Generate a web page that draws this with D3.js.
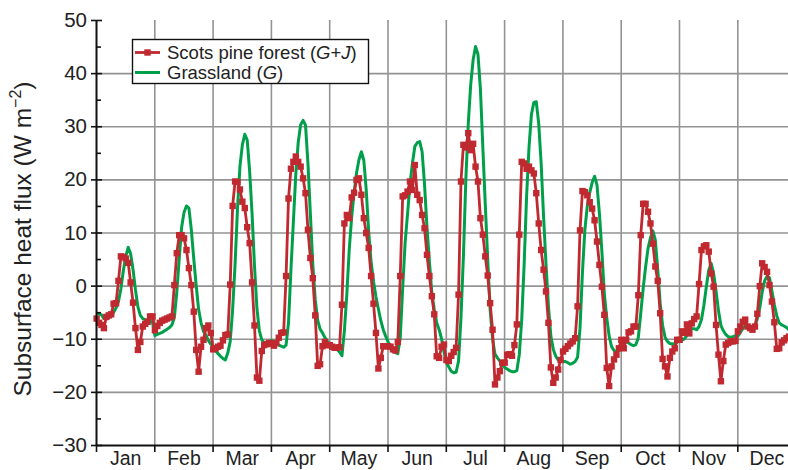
<!DOCTYPE html>
<html>
<head>
<meta charset="utf-8">
<title>Subsurface heat flux</title>
<script src="https://d3js.org/d3.v7.min.js"></script>
<style>
  body { margin: 0; background: #fff; }
  svg { display: block; font-family: "Liberation Sans", Arial, Helvetica, sans-serif; }
  .grid line { stroke: #939393; stroke-width: 1.6; }
  .grid .domain { display: none; }
  .axis .domain { stroke: #111; stroke-width: 2; }
  .axis line { stroke: #111; stroke-width: 1.6; }
  .axis text { fill: #222; }
</style>
</head>
<body>
<script>
// month labels and y ticks
const months = ["Jan", "Feb", "Mar", "Apr", "May", "Jun", "Jul", "Aug", "Sep", "Oct", "Nov", "Dec"];
const yTicks = [-30, -20, -10, 0, 10, 20, 30, 40, 50];

// mean diurnal cycle, 24 hourly values per month (W m-2)
const scotsPine = [
  [-6.2, -7.0, -7.4, -8.0, -5.9, -5.6, -5.4, -3.4, -3.3, 0.9, 5.5, 5.4, 5.1, 4.3, 0.6, -3.2, -8.0, -12.1, -10.6, -7.7, -7.2, -6.8, -5.8, -5.8],
  [-8.4, -7.6, -7.0, -6.6, -6.4, -6.2, -6.0, -5.8, 0.1, 6.1, 9.5, 9.5, 8.9, 6.7, 3.3, 0.1, -4.9, -12.1, -16.2, -11.5, -10.2, -8.0, -7.5, -8.9],
  [-12.0, -11.8, -11.5, -11.3, -10.3, -9.3, -9.2, 0.2, 15.0, 19.6, 19.5, 18.1, 15.8, 14.6, 11.0, 8.0, 0.6, -7.5, -17.3, -17.9, -12.3, -11.2, -11.0, -10.8],
  [-10.9, -11.3, -10.8, -9.8, -8.9, -8.8, 1.8, 16.4, 22.0, 23.3, 24.3, 23.3, 22.4, 20.2, 17.4, 10.5, 5.2, 1.4, -5.6, -15.1, -14.8, -11.4, -10.6, -11.2],
  [-11.2, -11.5, -11.7, -11.7, -11.6, -3.6, 11.7, 13.3, 12.7, 16.6, 17.5, 19.9, 20.2, 17.1, 12.7, 9.9, 7.1, 1.8, -3.4, -8.9, -15.6, -13.6, -11.4, -11.4],
  [-11.4, -11.5, -12.0, -12.2, -10.6, 1.8, 16.8, 17.0, 17.7, 19.6, 18.0, 22.7, 17.1, 16.1, 13.3, 10.8, 5.8, 1.8, -2.0, -5.4, -13.3, -13.6, -11.5, -11.1],
  [-14.0, -14.2, -13.2, -12.5, -11.7, -1.7, 19.6, 26.5, 26.0, 28.7, 25.5, 26.7, 22.4, 19.6, 12.7, 9.6, 5.5, 1.9, -3.3, -8.3, -18.6, -17.3, -16.1, -14.5],
  [-14.5, -13.0, -12.9, -13.2, -11.2, -7.3, 9.6, 23.3, 23.0, 22.0, 22.4, 21.7, 21.1, 17.4, 11.7, 6.7, 3.0, -1.1, -7.0, -15.4, -18.3, -17.3, -15.8, -14.0],
  [-12.4, -11.9, -11.4, -10.9, -10.5, -9.9, -3.9, 10.4, 17.8, 17.6, 17.0, 15.7, 14.5, 12.3, 8.3, 3.9, -0.2, -5.5, -15.5, -18.9, -15.2, -13.9, -13.0, -11.8],
  [-10.2, -11.8, -10.2, -8.8, -8.6, -7.7, -7.7, -1.8, 9.5, 15.4, 15.4, 13.9, 11.7, 7.9, 3.6, 0.9, -5.2, -13.8, -15.2, -17.1, -13.6, -12.4, -11.8, -10.2],
  [-10.2, -8.6, -8.9, -7.3, -9.0, -7.1, -6.3, -5.8, 0.3, 6.7, 7.4, 7.6, 6.4, 2.3, -0.2, -7.4, -13.0, -18.0, -14.2, -11.1, -10.8, -10.5, -10.5, -10.4],
  [-8.6, -7.7, -6.8, -6.4, -7.7, -8.0, -8.3, -7.7, -5.3, -0.1, 4.2, 3.5, 2.6, 0.1, -3.0, -6.9, -11.9, -11.8, -10.7, -10.3, -9.9, -9.6, -9.3, -9.0]
];

const grassland = [
  [-5.2, -5.3, -5.5, -6.2, -6.3, -6.0, -5.8, -5.0, -4.2, -3.0, -0.6, 2.8, 5.5, 7.2, 6.0, 3.0, -0.8, -4.0, -5.6, -6.2, -6.4, -6.5, -6.6, -7.0],
  [-9.4, -9.2, -9.0, -8.8, -8.5, -8.2, -7.9, -7.4, -6.0, -1.3, 5.0, 11.0, 13.8, 15.0, 14.6, 10.5, 5.0, 0.0, -4.5, -7.0, -8.6, -9.3, -10.3, -11.0],
  [-11.4, -12.3, -12.8, -13.3, -13.7, -14.0, -12.7, -10.5, -4.5, 4.0, 14.5, 22.4, 26.5, 28.5, 27.4, 21.5, 13.5, 3.7, -4.3, -8.5, -10.2, -10.8, -11.0, -11.3],
  [-10.3, -10.6, -10.9, -11.2, -11.4, -11.6, -11.2, -7.0, 3.0, 12.0, 21.0, 27.0, 30.3, 31.1, 30.2, 23.0, 13.5, 4.0, -2.6, -6.5, -8.2, -8.9, -9.8, -10.5],
  [-11.2, -11.6, -11.8, -12.0, -12.5, -13.2, -8.5, -1.7, 6.8, 12.9, 17.5, 21.2, 23.7, 25.2, 23.6, 18.0, 10.1, 4.5, 0.8, -2.1, -4.4, -6.6, -8.3, -9.5],
  [-10.6, -11.7, -12.2, -12.6, -12.8, -9.8, -0.5, 8.0, 13.5, 19.0, 23.0, 26.2, 26.9, 27.1, 25.2, 19.0, 11.0, 4.5, -1.3, -4.5, -7.0, -8.3, -10.0, -12.5],
  [-14.5, -15.3, -16.1, -16.4, -16.3, -14.2, -6.0, 5.5, 20.0, 30.5, 37.8, 42.5, 45.0, 43.5, 37.0, 26.0, 15.3, 5.0, -4.5, -10.0, -12.9, -13.6, -14.2, -15.0],
  [-15.4, -15.7, -16.0, -16.2, -16.2, -16.0, -13.0, -6.5, 4.0, 16.7, 26.0, 32.2, 34.5, 34.6, 30.5, 23.0, 13.0, 4.0, -3.9, -9.5, -12.0, -13.3, -14.0, -14.2],
  [-14.3, -14.3, -14.5, -14.8, -14.6, -14.3, -13.5, -8.0, 2.5, 10.5, 15.0, 17.5, 19.4, 20.6, 18.9, 13.5, 6.5, -1.5, -6.0, -9.5, -11.5, -12.2, -12.6, -12.2],
  [-11.2, -10.8, -10.6, -10.8, -11.1, -11.3, -11.1, -9.8, -5.2, -0.5, 3.5, 7.0, 9.0, 10.3, 8.6, 3.0, -3.3, -7.5, -9.7, -10.5, -10.9, -11.0, -10.9, -10.6],
  [-10.5, -10.3, -10.0, -9.4, -8.6, -8.1, -8.1, -8.3, -7.7, -6.4, -3.7, -0.2, 2.9, 4.2, 2.3, -1.0, -4.7, -7.5, -8.5, -9.2, -9.6, -9.7, -9.6, -9.4],
  [-9.5, -8.8, -8.1, -7.6, -7.5, -7.8, -7.9, -7.7, -6.2, -4.2, -1.2, 0.9, 1.8, 1.5, -1.0, -3.6, -5.7, -7.0, -7.4, -7.6, -7.9, -8.3, -8.6, -8.8]
];

const width = 788, height = 470;
const plotLeft = 96, plotTop = 20, plotBottom = 445;
const monthW = 58.3;

const svg = d3.select("body").append("svg")
  .attr("width", width)
  .attr("height", height);

const x = d3.scaleLinear().domain([0, 12]).range([plotLeft, plotLeft + 12 * monthW]);
const y = d3.scaleLinear().domain([-30, 50]).range([plotBottom, plotTop]);

// grid
svg.append("g")
  .attr("class", "grid")
  .attr("transform", "translate(0," + plotBottom + ")")
  .call(d3.axisBottom(x).tickValues(d3.range(1, 12)).tickSize(-(plotBottom - plotTop)).tickFormat(""));

svg.append("g")
  .attr("class", "grid")
  .attr("transform", "translate(" + plotLeft + ",0)")
  .call(d3.axisLeft(y).tickValues(yTicks.filter(d => d > -30 && d < 50)).tickSize(-(width - plotLeft)).tickFormat(""));

// flatten hourly values onto a month axis
function toPoints(series) {
  return series.flatMap((day, m) => day.map((v, h) => ({ t: m + (h + 0.25) / 24, v: v })));
}
const pinePts = toPoints(scotsPine);
const grassPts = toPoints(grassland);

const line = d3.line().x(d => x(d.t)).y(d => y(d.v));

const red = "#c0292f", green = "#00a04b";

svg.append("path")
  .datum(grassPts)
  .attr("fill", "none")
  .attr("stroke", green)
  .attr("stroke-width", 3)
  .attr("stroke-linejoin", "round")
  .attr("d", line);

svg.append("path")
  .datum(pinePts)
  .attr("fill", "none")
  .attr("stroke", red)
  .attr("stroke-width", 2.8)
  .attr("stroke-linejoin", "round")
  .attr("d", line);

const ms = 6.4;
svg.append("g").selectAll("rect")
  .data(pinePts)
  .enter()
  .append("rect")
  .attr("x", d => x(d.t) - ms / 2)
  .attr("y", d => y(d.v) - ms / 2)
  .attr("width", ms)
  .attr("height", ms)
  .attr("fill", red);

// y axis: major ticks cross the line, minor ticks point inward
const yAxis = svg.append("g")
  .attr("class", "axis")
  .attr("transform", "translate(" + plotLeft + ",0)")
  .call(d3.axisLeft(y).tickValues(yTicks).tickSize(5).tickSizeOuter(0).tickPadding(4));
yAxis.selectAll(".tick line").attr("x1", 6);
yAxis.attr("font-family", null);
yAxis.selectAll(".tick text").attr("font-size", 20.5);

svg.append("g")
  .attr("class", "axis")
  .attr("transform", "translate(" + plotLeft + ",0)")
  .call(d3.axisRight(y).tickValues(d3.range(-25, 50, 10)).tickSize(5).tickFormat(""))
  .select(".domain").remove();

// x axis
svg.append("g")
  .attr("class", "axis")
  .attr("transform", "translate(0," + plotBottom + ")")
  .call(d3.axisBottom(x).tickValues(d3.range(0, 13)).tickSize(7).tickSizeOuter(0).tickFormat(""));

const xLabels = svg.append("g")
  .attr("class", "axis")
  .attr("transform", "translate(0," + plotBottom + ")")
  .call(d3.axisBottom(x).tickValues(d3.range(0, 12).map(i => i + 0.5)).tickSize(0).tickPadding(6)
    .tickFormat((d, i) => months[i]))
  .call(g => g.select(".domain").remove());
xLabels.attr("font-family", null);
xLabels.selectAll("text").attr("font-size", 19.5);

// y title
const title = svg.append("text")
  .attr("transform", "translate(31,239) rotate(-90)")
  .attr("text-anchor", "middle")
  .attr("font-size", 24.5)
  .attr("fill", "#222");
title.append("tspan").text("Subsurface heat flux (W m");
title.append("tspan").attr("font-size", 16).attr("dy", -10).text("\u22122");
title.append("tspan").attr("dy", 10).text(")");

// legend
const legend = svg.append("g");
legend.append("rect")
  .attr("x", 132.5).attr("y", 39.5)
  .attr("width", 236).attr("height", 44)
  .attr("fill", "#fff")
  .attr("stroke", "#111")
  .attr("stroke-width", 1.4);

const entries = [
  { color: red, marker: true, y: 52.5, parts: [["Scots pine forest (", false], ["G", true], ["+", false], ["J", true], [")", false]] },
  { color: green, marker: false, y: 72.5, parts: [["Grassland (", false], ["G", true], [")", false]] }
];
entries.forEach(e => {
  legend.append("line")
    .attr("x1", 135).attr("x2", 160)
    .attr("y1", e.y).attr("y2", e.y)
    .attr("stroke", e.color)
    .attr("stroke-width", e.marker ? 2.8 : 3);
  if (e.marker) {
    legend.append("rect")
      .attr("x", 147.5 - ms / 2).attr("y", e.y - ms / 2)
      .attr("width", ms).attr("height", ms)
      .attr("fill", e.color);
  }
  const t = legend.append("text")
    .attr("x", 167).attr("y", e.y + 6.5)
    .attr("font-size", 18.5)
    .attr("fill", "#222");
  e.parts.forEach(p => {
    t.append("tspan").attr("font-style", p[1] ? "italic" : "normal").text(p[0]);
  });
});
</script>
</body>
</html>
